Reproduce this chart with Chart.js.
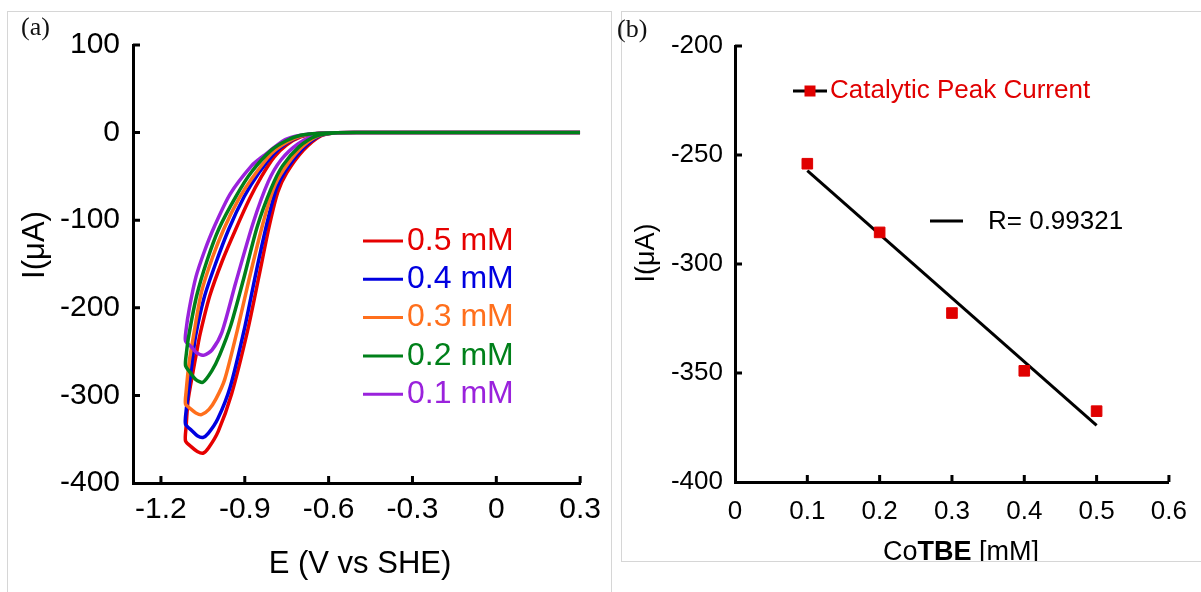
<!DOCTYPE html>
<html>
<head>
<meta charset="utf-8">
<script src="https://cdn.jsdelivr.net/npm/chart.js@4.4.1/dist/chart.umd.min.js"></script>
<style>
  html, body { margin: 0; padding: 0; background: #fff; }
  body { width: 1201px; height: 592px; position: relative; overflow: hidden; }
  .panel { position: absolute; box-sizing: border-box; border-style: solid; border-color: #d6d6d6; }
  #panelA { left: 7px; top: 11px; width: 605px; height: 581px; border-width: 1px 1px 0 1px; }
  #panelB { left: 621px; top: 11px; width: 580px; height: 551px; border-width: 1px 0 1px 1px; }
  .tag { position: absolute; font-family: 'Liberation Serif', 'Times New Roman', serif; font-size: 26px; line-height: 26px; color: #111; }
  #chartA { position: absolute; left: 0; top: 0; }
  #chartB { position: absolute; left: 610px; top: 0; }
</style>
</head>
<body>
<div class="panel" id="panelA"></div>
<div class="panel" id="panelB"></div>
<canvas id="chartA" width="610" height="592"></canvas>
<canvas id="chartB" width="591" height="561"></canvas>
<div class="tag" style="left:21px; top:14px;">(a)</div>
<div class="tag" style="left:617px; top:16px;">(b)</div>

<script>
// ---- (a) cyclic voltammograms, [E (V vs SHE), I (uA)] along the sweep ----
const cv05 = [[0.3,0],[-0.5,0],[-0.58,-0.5],[-0.63,-4],[-0.69,-20],[-0.75,-46],[-0.782,-68],[-0.812,-106],
  [-0.85,-165],[-0.89,-226],[-0.947,-298],[-0.995,-341],[-1.03,-360],[-1.05,-366],[-1.07,-364],[-1.09,-359],
  [-1.112,-352],[-1.11,-336],[-1.103,-306],[-1.087,-276],[-1.072,-250],[-1.06,-230],[-1.025,-186],
  [-0.98,-146],[-0.932,-110],[-0.882,-75],[-0.84,-50],[-0.795,-28],[-0.75,-14],[-0.7,-5],[-0.64,-1],[-0.5,0],[0.3,0]];
const cv04 = [[0.3,0],[-0.5,0],[-0.58,-0.5],[-0.635,-4],[-0.695,-19],[-0.755,-44],[-0.787,-64],[-0.821,-104],
  [-0.86,-160],[-0.9,-222],[-0.952,-290],[-0.997,-327],[-1.03,-343],[-1.05,-348],[-1.07,-346],[-1.09,-340],
  [-1.112,-333],[-1.11,-318],[-1.1,-292],[-1.087,-258],[-1.076,-232],[-1.045,-188],[-1.005,-150],[-0.957,-110],
  [-0.902,-73],[-0.85,-46],[-0.795,-24],[-0.75,-12],[-0.7,-4],[-0.64,-1],[-0.5,0],[0.3,0]];
const cv03 = [[0.3,0],[-0.5,0],[-0.58,-0.5],[-0.64,-4],[-0.7,-18],[-0.76,-42],[-0.797,-64],[-0.837,-106],
  [-0.885,-168],[-0.927,-226],[-0.972,-282],[-1.003,-304],[-1.028,-316],[-1.055,-322],[-1.075,-320],[-1.095,-315],
  [-1.112,-310],[-1.11,-296],[-1.099,-262],[-1.083,-231],[-1.055,-182],[-1.015,-142],[-0.975,-110],[-0.922,-76],
  [-0.876,-53],[-0.805,-24],[-0.75,-11],[-0.7,-4],[-0.64,-1],[-0.5,0],[0.3,0]];
const cv02 = [[0.3,0],[-0.5,0],[-0.58,-0.5],[-0.645,-4],[-0.705,-16],[-0.765,-38],[-0.806,-64],[-0.856,-108],
  [-0.905,-168],[-0.95,-220],[-0.99,-254],[-1.018,-272],[-1.05,-285],[-1.075,-282],[-1.095,-274],[-1.112,-266],
  [-1.109,-252],[-1.1,-231],[-1.072,-186],[-1.035,-146],[-0.993,-110],[-0.932,-73],[-0.876,-45],[-0.805,-20],
  [-0.75,-9],[-0.7,-3],[-0.64,-1],[-0.5,0],[0.3,0]];
const cv01 = [[0.3,0],[-0.5,0],[-0.58,-0.5],[-0.65,-3.5],[-0.71,-13],[-0.77,-31],[-0.816,-56],[-0.871,-104],
  [-0.933,-172],[-0.982,-228],[-1.017,-248],[-1.045,-254],[-1.07,-252],[-1.09,-245],[-1.112,-238],[-1.11,-225],
  [-1.098,-200],[-1.075,-165],[-1.045,-136],[-1.01,-108],[-0.952,-70],[-0.876,-38],[-0.835,-27],[-0.755,-8],
  [-0.7,-3],[-0.64,-1],[-0.5,0],[0.3,0]];

const cvLabels = ['0.5 mM', '0.4 mM', '0.3 mM', '0.2 mM', '0.1 mM'];
const cvCurves = [cv05, cv04, cv03, cv02, cv01];
const cvColors = ['#e60000', '#0000e0', '#ff6f1c', '#00801a', '#9a22dc'];
const cvOrder = [5, 4, 3, 1, 2];
const potentialTicks = [-1.2, -0.9, -0.6, -0.3, 0, 0.3];
const currentTicksA = [-400, -300, -200, -100, 0, 100];

// ---- (b) peak current vs catalyst concentration ----
const concentration = [0.1, 0.2, 0.3, 0.4, 0.5];
const peakCurrent = [-254, -285.5, -322.5, -349, -367.5];
const fitConc = [0.1, 0.5];
const fitCurrent = [-257.2, -374.0];
const fitLabel = 'R= 0.99321';
const concTicks = [0, 0.1, 0.2, 0.3, 0.4, 0.5, 0.6];
const currentTicksB = [-400, -350, -300, -250, -200];

const FONT = "'Liberation Sans', Arial, Helvetica, sans-serif";

// tick marks drawn on the inside of the axes
const inwardTicks = {
  id: 'inwardTicks',
  afterDatasetsDraw(chart, args, opts) {
    const { ctx, chartArea: a, scales: { x, y } } = chart;
    ctx.save();
    ctx.strokeStyle = '#000';
    ctx.lineWidth = 3;
    ctx.beginPath();
    x.ticks.forEach(t => {
      const px = x.getPixelForValue(t.value);
      if (px - a.left < 2) return;
      ctx.moveTo(px, a.bottom);
      ctx.lineTo(px, a.bottom - opts.length);
    });
    y.ticks.forEach(t => {
      const py = y.getPixelForValue(t.value);
      if (a.bottom - py < 2) return;
      ctx.moveTo(a.left, py);
      ctx.lineTo(a.left + opts.length, py);
    });
    ctx.stroke();
    ctx.restore();
  }
};

// axis titles; the x title may mix regular and bold runs
const axisTitles = {
  id: 'axisTitles',
  afterDraw(chart, args, opts) {
    const ctx = chart.ctx;
    ctx.save();
    ctx.fillStyle = '#000';
    ctx.textBaseline = 'alphabetic';
    ctx.textAlign = 'left';
    const fontOf = r => (r.bold ? 'bold ' : '') + opts.size + 'px ' + FONT;
    let total = 0;
    opts.x.runs.forEach(r => { ctx.font = fontOf(r); total += ctx.measureText(r.text).width; });
    let cx = opts.x.cx - total / 2;
    opts.x.runs.forEach(r => {
      ctx.font = fontOf(r);
      ctx.fillText(r.text, cx, opts.x.baseline);
      cx += ctx.measureText(r.text).width;
    });
    ctx.translate(opts.y.cx, opts.y.cy);
    ctx.rotate(-Math.PI / 2);
    ctx.font = opts.size + 'px ' + FONT;
    ctx.textAlign = 'center';
    ctx.textBaseline = 'middle';
    ctx.fillText(opts.y.text, 0, 0);
    ctx.restore();
  }
};

// legend for the voltammograms, placed inside the plot
const curveKey = {
  id: 'curveKey',
  afterDraw(chart, args, opts) {
    const ctx = chart.ctx;
    ctx.save();
    ctx.font = opts.size + 'px ' + FONT;
    ctx.textBaseline = 'middle';
    ctx.lineWidth = 3;
    chart.data.datasets.forEach((ds, i) => {
      const y = opts.top + i * opts.step;
      ctx.strokeStyle = ds.borderColor;
      ctx.beginPath();
      ctx.moveTo(opts.x0, y);
      ctx.lineTo(opts.x1, y);
      ctx.stroke();
      ctx.fillStyle = ds.borderColor;
      ctx.fillText(ds.label, opts.textX, y);
    });
    ctx.restore();
  }
};

// legend entries for the peak-current plot
const peakKey = {
  id: 'peakKey',
  afterDraw(chart, args, opts) {
    const ctx = chart.ctx;
    const [pts, fit] = chart.data.datasets;
    ctx.save();
    ctx.font = opts.size + 'px ' + FONT;
    ctx.textBaseline = 'middle';
    ctx.lineWidth = 3;
    ctx.strokeStyle = '#000';
    ctx.beginPath();
    ctx.moveTo(opts.pts.x0, opts.pts.y);
    ctx.lineTo(opts.pts.x1, opts.pts.y);
    ctx.moveTo(opts.fit.x0, opts.fit.y);
    ctx.lineTo(opts.fit.x1, opts.fit.y);
    ctx.stroke();
    const s = opts.pts.box;
    const mx = (opts.pts.x0 + opts.pts.x1) / 2;
    ctx.fillStyle = pts.pointBackgroundColor;
    ctx.fillRect(mx - s / 2, opts.pts.y - s / 2, s, s);
    ctx.fillText(pts.label, opts.pts.textX, opts.pts.y);
    ctx.fillStyle = '#000';
    ctx.fillText(fit.label, opts.fit.textX, opts.fit.y + 1);
    ctx.restore();
  }
};

const tickSet = arr => s => { s.ticks = arr.map(v => ({ value: v })); };

new Chart(document.getElementById('chartA'), {
  type: 'scatter',
  data: {
    datasets: cvCurves.map((pts, i) => ({
      label: cvLabels[i],
      data: pts.map(([e, c]) => ({ x: e, y: c })),
      showLine: true,
      borderColor: cvColors[i],
      backgroundColor: cvColors[i],
      borderWidth: 3.5,
      pointRadius: 0,
      tension: 0.25,
      order: cvOrder[i]
    }))
  },
  options: {
    responsive: false,
    animation: false,
    layout: { padding: { left: 0, top: 45, right: 27, bottom: 0 } },
    plugins: {
      legend: { display: false },
      tooltip: { enabled: false },
      inwardTicks: { length: 7 },
      axisTitles: {
        size: 31,
        x: { runs: [{ text: 'E (V vs SHE)' }], cx: 360, baseline: 573 },
        y: { text: 'I(\u03bcA)', cx: 35, cy: 245 }
      },
      curveKey: { size: 32, top: 241, step: 38.3, x0: 363, x1: 403, textX: 407 }
    },
    scales: {
      x: {
        type: 'linear', min: -1.3, max: 0.3,
        grid: { display: false, drawTicks: false },
        border: { color: '#000', width: 3 },
        afterBuildTicks: tickSet(potentialTicks),
        afterFit: s => { s.height = 109; },
        ticks: { color: '#000', font: { family: FONT, size: 30 }, padding: 9, maxRotation: 0, autoSkip: false, callback: v => String(v) }
      },
      y: {
        type: 'linear', min: -400, max: 100,
        grid: { display: false, drawTicks: false },
        border: { color: '#000', width: 3 },
        afterBuildTicks: tickSet(currentTicksA),
        afterFit: s => { s.width = 133; },
        ticks: { color: '#000', font: { family: FONT, size: 30 }, padding: 13, callback: v => String(v) }
      }
    }
  },
  plugins: [inwardTicks, axisTitles, curveKey]
});

new Chart(document.getElementById('chartB'), {
  type: 'scatter',
  data: {
    datasets: [
      {
        label: 'Catalytic Peak Current',
        data: concentration.map((c, i) => ({ x: c, y: peakCurrent[i] })),
        showLine: false,
        pointStyle: 'rect',
        pointRadius: 7.5,
        pointBorderWidth: 1,
        pointBackgroundColor: '#e00000',
        pointBorderColor: '#e00000',
        order: 0
      },
      {
        label: fitLabel,
        data: fitConc.map((c, i) => ({ x: c, y: fitCurrent[i] })),
        showLine: true,
        borderColor: '#000',
        borderWidth: 3,
        pointRadius: 0,
        order: 1
      }
    ]
  },
  options: {
    responsive: false,
    animation: false,
    layout: { padding: { left: 0, top: 46, right: 23, bottom: 0 } },
    plugins: {
      legend: { display: false },
      tooltip: { enabled: false },
      inwardTicks: { length: 7 },
      axisTitles: {
        size: 27,
        x: { runs: [{ text: 'Co' }, { text: 'TBE', bold: true }, { text: ' [mM]' }], cx: 351, baseline: 560 },
        y: { text: 'I(\u03bcA)', cx: 37, cy: 253 }
      },
      peakKey: {
        size: 26,
        pts: { x0: 183, x1: 217, y: 91, box: 11, textX: 220 },
        fit: { x0: 320, x1: 353, y: 221, textX: 378 }
      }
    },
    scales: {
      x: {
        type: 'linear', min: 0, max: 0.6,
        grid: { display: false, drawTicks: false },
        border: { color: '#000', width: 3 },
        afterBuildTicks: tickSet(concTicks),
        afterFit: s => { s.height = 79; },
        ticks: { color: '#000', font: { family: FONT, size: 26 }, padding: 14, maxRotation: 0, autoSkip: false, callback: v => String(v) }
      },
      y: {
        type: 'linear', min: -400, max: -200,
        grid: { display: false, drawTicks: false },
        border: { color: '#000', width: 3 },
        afterBuildTicks: tickSet(currentTicksB),
        afterFit: s => { s.width = 125; },
        ticks: { color: '#000', font: { family: FONT, size: 26 }, padding: 12, callback: v => String(v) }
      }
    }
  },
  plugins: [inwardTicks, axisTitles, peakKey]
});
</script>
</body>
</html>
